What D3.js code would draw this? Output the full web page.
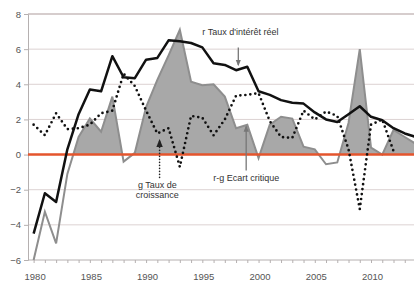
<!DOCTYPE html>
<html>
<head>
<script src="https://d3js.org/d3.v7.min.js"></script>
<style>
 body { margin: 0; background: #fff; }
 svg { display: block; font-family: "Liberation Sans", Arial, sans-serif; }
</style>
</head>
<body>
<svg width="414" height="284"></svg>
<script>
 // data
 const years = d3.range(1980, 2015);
 const tauxReel = [-4.5, -2.2, -2.7, 0.3, 2.3, 3.7, 3.6, 5.6, 4.4, 4.35,
                   5.4, 5.5, 6.5, 6.45, 6.35, 6.1, 5.2, 5.1, 4.8, 5.0,
                   3.6, 3.4, 3.1, 2.95, 2.9, 2.4, 2.0, 1.85, 2.3, 2.75,
                   2.15, 1.95, 1.5, 1.2, 1.0];
 const croissance = [1.7, 1.1, 2.35, 1.45, 1.5, 1.7, 2.35, 2.5, 4.6, 3.9,
                     2.5, 1.2, 1.5, -0.7, 2.2, 2.1, 1.1, 2.0, 3.35, 3.4,
                     3.5, 1.9, 1.0, 0.95, 2.5, 2.0, 2.45, 2.2, 0.3, -3.1,
                     1.7, 2.0, 0.2];
 const ecart = [-6.0, -3.25, -5.05, -1.1, 1.0, 2.05, 1.3, 3.3, -0.4, 0.1,
                2.7, 4.25, 5.65, 7.1, 4.15, 3.95, 4.0, 3.3, 1.5, 1.7,
                -0.2, 1.7, 2.15, 2.05, 0.45, 0.3, -0.55, -0.45, 1.8, 6.0,
                0.4, 0.0, 1.4, 1.0, 0.6];
 const yTicks = [-6, -4, -2, 0, 2, 4, 6, 8];
 const xLabels = [1980, 1985, 1990, 1995, 2000, 2005, 2010];

 const svg = d3.select("svg");
 const width = +svg.attr("width");

 const x = d3.scaleLinear().domain([1979.5, 2014]).range([28, 416]);
 const y = d3.scaleLinear().domain([-6, 8]).range([260, 14]);

 const defs = svg.append("defs");
 defs.append("clipPath").attr("id", "above0")
     .append("rect")
     .attr("x", x(1979.5)).attr("y", 0)
     .attr("width", width).attr("height", y(0));

 ["#777", "#222"].forEach((c, i) => {
     defs.append("marker")
         .attr("id", "arr" + i)
         .attr("viewBox", "0 0 10 10")
         .attr("refX", 8).attr("refY", 5)
         .attr("markerWidth", 5).attr("markerHeight", 5)
         .attr("orient", "auto-start-reverse")
         .append("path")
         .attr("d", "M0,1 L10,5 L0,9 z")
         .attr("fill", c);
 });

 // gridlines
 svg.append("g")
    .selectAll("line")
    .data(yTicks.filter(d => d > -6))
    .join("line")
    .attr("x1", x(1979.5)).attr("x2", width)
    .attr("y1", d => y(d)).attr("y2", d => y(d))
    .attr("stroke", d => d === 8 ? "#c9bcbc" : "#dcd2d2")
    .attr("stroke-width", d => d === 8 ? 1.5 : 1);

 // y axis
 const yAxis = svg.append("g")
    .attr("transform", `translate(${x(1979.5)},0)`)
    .call(d3.axisLeft(y).tickValues(yTicks).tickSize(4).tickPadding(3));
 yAxis.select(".domain").attr("stroke", "#b5b0b0");
 yAxis.selectAll(".tick line").attr("stroke", "#b5b0b0");
 yAxis.selectAll("text").attr("font-size", 9.5).attr("fill", "#555")
      .attr("font-family", "Liberation Sans, Arial, sans-serif");

 // x axis at -6
 const xAxis = svg.append("g")
    .attr("transform", `translate(0,${y(-6)})`)
    .call(d3.axisBottom(x).tickValues(years).tickSize(3).tickFormat(""));
 xAxis.select(".domain").attr("stroke", "#b5b0b0").attr("d", `M${x(1979.5)},0H${width}`);
 xAxis.selectAll(".tick line").attr("stroke", "#b5b0b0");

 svg.append("g")
    .selectAll("text")
    .data(xLabels)
    .join("text")
    .attr("x", d => x(d) + 1.5)
    .attr("y", y(-6) + 20)
    .attr("text-anchor", "middle")
    .attr("font-size", 9.5)
    .attr("fill", "#555")
    .text(d => d);

 // r-g area, filled only above zero
 const gapPts = years.map((yr, i) => ({yr, v: ecart[i]}));
 svg.append("path")
    .datum(gapPts)
    .attr("clip-path", "url(#above0)")
    .attr("fill", "#a8a8a8")
    .attr("d", d3.area().x(d => x(d.yr)).y0(y(0)).y1(d => y(d.v)));
 svg.append("path")
    .datum(gapPts)
    .attr("fill", "none")
    .attr("stroke", "#8e8e8e")
    .attr("stroke-width", 2)
    .attr("d", d3.line().x(d => x(d.yr)).y(d => y(d.v)));

 // zero line
 svg.append("line")
    .attr("x1", x(1979.5)).attr("x2", width)
    .attr("y1", y(0)).attr("y2", y(0))
    .attr("stroke", "#e4552d")
    .attr("stroke-width", 2.5);

 // r
 svg.append("path")
    .datum(years.map((yr, i) => ({yr, v: tauxReel[i]})))
    .attr("fill", "none")
    .attr("stroke", "#111")
    .attr("stroke-width", 2.5)
    .attr("stroke-linejoin", "round")
    .attr("d", d3.line().x(d => x(d.yr)).y(d => y(d.v)));

 // g
 svg.append("path")
    .datum(croissance.map((v, i) => ({yr: years[i], v})))
    .attr("fill", "none")
    .attr("stroke", "#111")
    .attr("stroke-width", 2.7)
    .attr("stroke-linecap", "round")
    .attr("stroke-dasharray", "0 5")
    .attr("d", d3.line().x(d => x(d.yr)).y(d => y(d.v)));

 // annotations
 const note = svg.append("g").attr("font-size", 9).attr("fill", "#333");
 note.append("text").attr("x", x(1995)).attr("y", y(6.8)).text("r Taux d'intérêt réel");
 svg.append("line")
    .attr("x1", x(1998.2)).attr("x2", x(1998.2))
    .attr("y1", y(6.1)).attr("y2", y(5.1))
    .attr("stroke", "#777").attr("stroke-width", 1.3)
    .attr("marker-end", "url(#arr0)");

 note.append("text").attr("x", x(1991.0)).attr("y", y(-1.9))
     .attr("text-anchor", "middle").text("g Taux de");
 note.append("text").attr("x", x(1991.0)).attr("y", y(-2.45))
     .attr("text-anchor", "middle").text("croissance");
 svg.append("line")
    .attr("x1", x(1991.2)).attr("x2", x(1991.2))
    .attr("y1", y(-1.3)).attr("y2", y(0.8))
    .attr("stroke", "#222").attr("stroke-width", 1.6)
    .attr("stroke-linecap", "round")
    .attr("stroke-dasharray", "0 3")
    .attr("marker-end", "url(#arr1)");

 note.append("text").attr("x", x(1998.9)).attr("y", y(-1.5))
     .attr("text-anchor", "middle").text("r-g Ecart critique");
 svg.append("line")
    .attr("x1", x(1998.9)).attr("x2", x(1998.9))
    .attr("y1", y(-0.9)).attr("y2", y(1.6))
    .attr("stroke", "#777").attr("stroke-width", 1.3)
    .attr("marker-end", "url(#arr0)");
</script>
</body>
</html>
